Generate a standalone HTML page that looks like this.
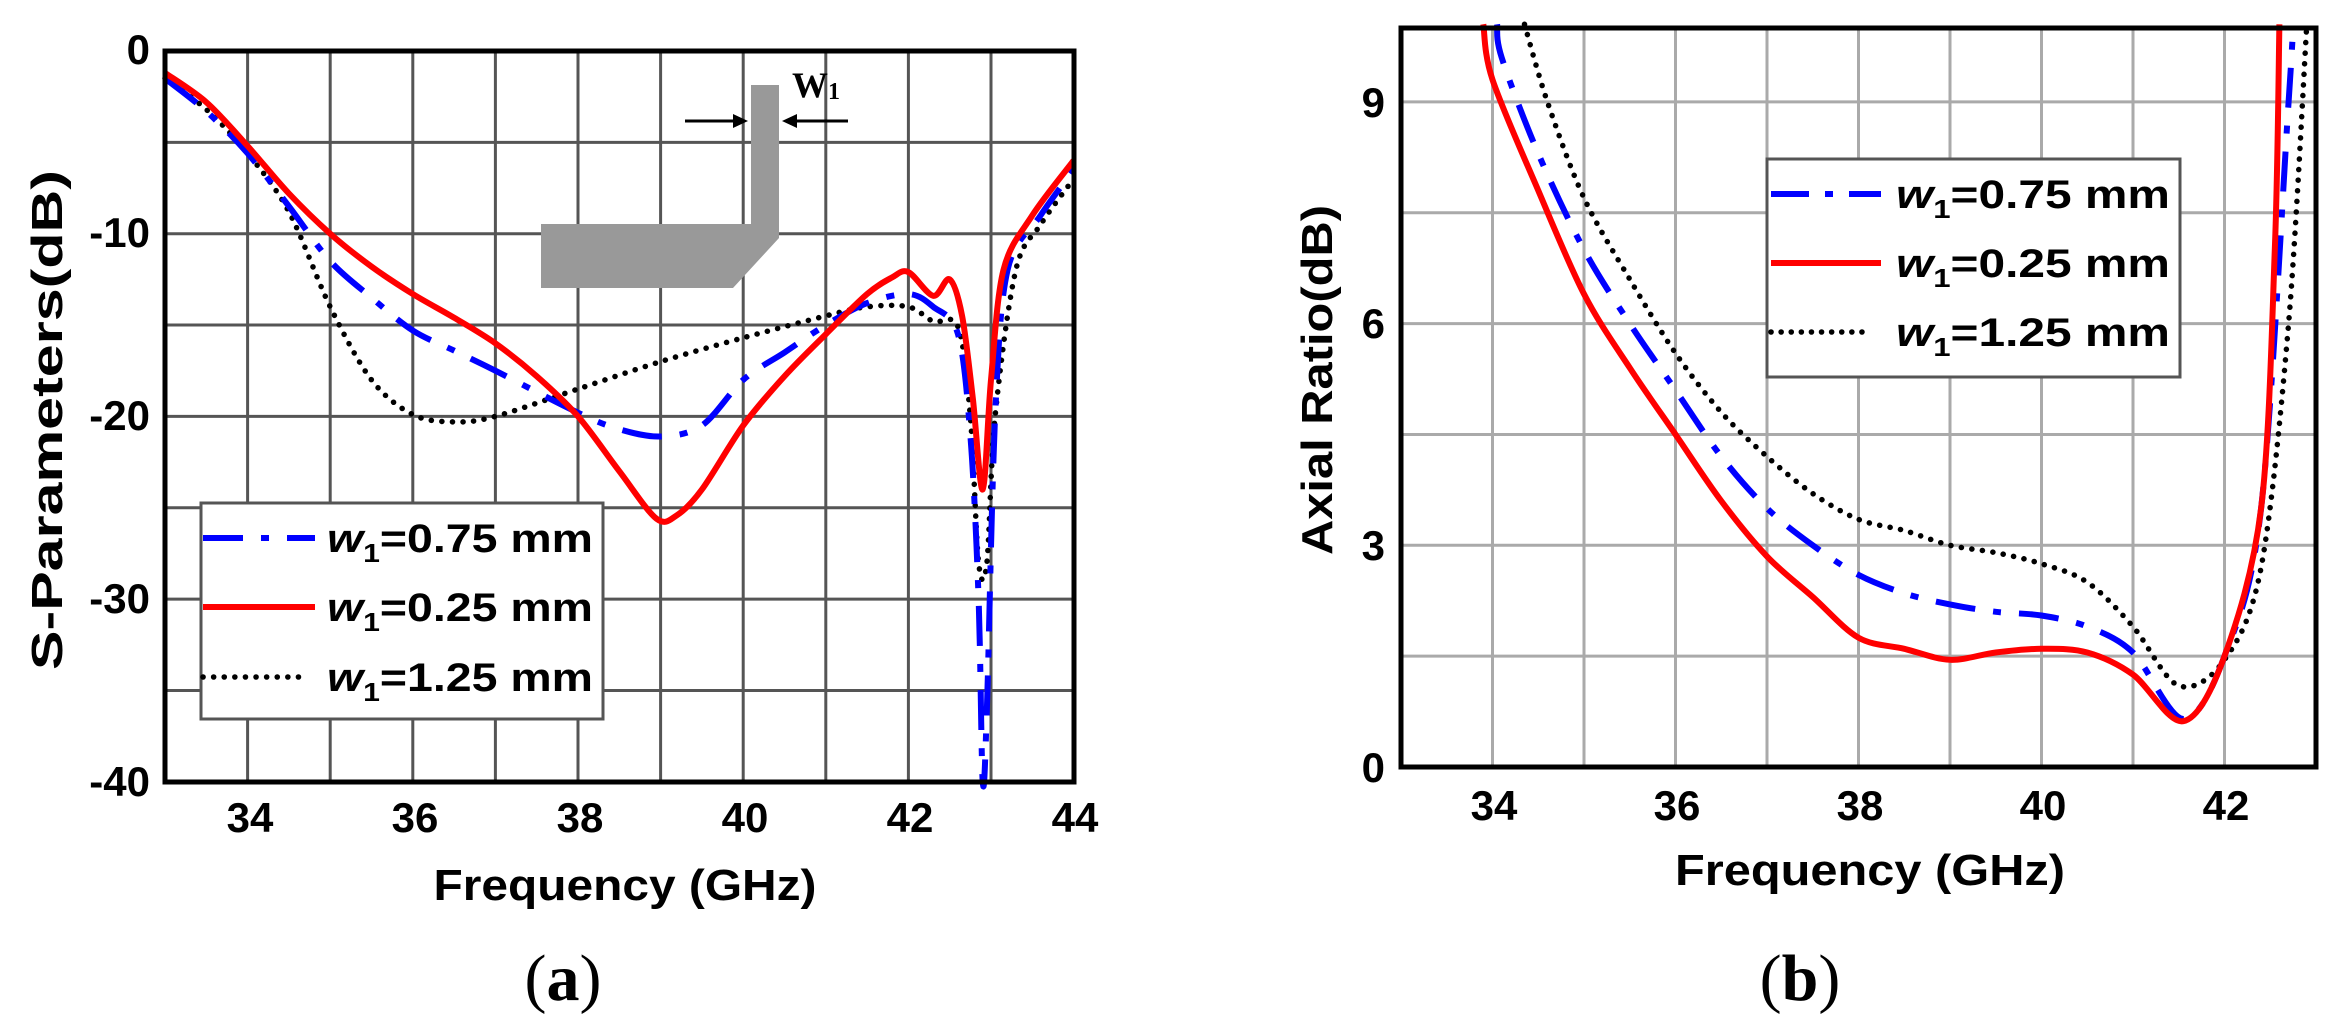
<!DOCTYPE html>
<html><head><meta charset="utf-8"><style>
html,body{margin:0;padding:0;background:#fff;}
svg{display:block;}
text{font-family:"Liberation Sans",Arial,sans-serif;font-weight:bold;fill:#000;}
</style></head><body>
<svg id="s" width="2332" height="1029" viewBox="0 0 2332 1029" xmlns="http://www.w3.org/2000/svg">
<g id="gridA"></g>
<g id="gridB"></g>
<!-- inset -->
<polygon points="751,85 779,85 779,238 733,288 541,288 541,224 751,224" fill="#999"/>
<line x1="685" y1="121" x2="738" y2="121" stroke="#000" stroke-width="3"/>
<polygon points="748,121 733,114 733,128" fill="#000"/>
<line x1="848" y1="121" x2="792" y2="121" stroke="#000" stroke-width="3"/>
<polygon points="782,121 797,114 797,128" fill="#000"/>
<text x="792" y="97" style="font-family:'Liberation Serif',serif;font-size:36px">W<tspan font-size="24" dy="2">1</tspan></text>
<g id="curves"></g>
<!-- axes frames -->
<rect x="165" y="51" width="909" height="731" fill="none" stroke="#000" stroke-width="5"/>
<rect x="1401" y="28" width="915" height="739" fill="none" stroke="#000" stroke-width="5"/>
<!-- legend a -->
<rect x="201" y="503" width="402" height="216" fill="#fff" stroke="#555" stroke-width="3"/>
<line x1="203" y1="538" x2="315" y2="538" stroke="#0000ff" stroke-width="6" stroke-dasharray="40 18 8 18" />
<line x1="203" y1="607" x2="315" y2="607" stroke="#ff0000" stroke-width="6"/>
<line x1="203" y1="677" x2="305" y2="677" stroke="#000" stroke-width="5.5" stroke-dasharray="0.1 10.5" stroke-linecap="round"/>
<g font-size="40">
<text x="327" y="552" textLength="266" lengthAdjust="spacingAndGlyphs"><tspan font-style="italic">w</tspan><tspan font-size="26" dy="10">1</tspan><tspan dy="-10">=0.75 mm</tspan></text>
<text x="327" y="621" textLength="266" lengthAdjust="spacingAndGlyphs"><tspan font-style="italic">w</tspan><tspan font-size="26" dy="10">1</tspan><tspan dy="-10">=0.25 mm</tspan></text>
<text x="327" y="691" textLength="266" lengthAdjust="spacingAndGlyphs"><tspan font-style="italic">w</tspan><tspan font-size="26" dy="10">1</tspan><tspan dy="-10">=1.25 mm</tspan></text>
</g>
<!-- legend b -->
<rect x="1767" y="159" width="413" height="218" fill="#fff" stroke="#555" stroke-width="3"/>
<line x1="1771" y1="194" x2="1881" y2="194" stroke="#0000ff" stroke-width="6" stroke-dasharray="38 16 8 16"/>
<line x1="1771" y1="263" x2="1881" y2="263" stroke="#ff0000" stroke-width="6"/>
<line x1="1771" y1="332" x2="1870" y2="332" stroke="#000" stroke-width="5.5" stroke-dasharray="0.1 10" stroke-linecap="round"/>
<g font-size="40">
<text x="1896" y="208" textLength="274" lengthAdjust="spacingAndGlyphs"><tspan font-style="italic">w</tspan><tspan font-size="26" dy="10">1</tspan><tspan dy="-10">=0.75 mm</tspan></text>
<text x="1896" y="277" textLength="274" lengthAdjust="spacingAndGlyphs"><tspan font-style="italic">w</tspan><tspan font-size="26" dy="10">1</tspan><tspan dy="-10">=0.25 mm</tspan></text>
<text x="1896" y="346" textLength="274" lengthAdjust="spacingAndGlyphs"><tspan font-style="italic">w</tspan><tspan font-size="26" dy="10">1</tspan><tspan dy="-10">=1.25 mm</tspan></text>
</g>
<!-- tick labels a -->
<g font-size="42" text-anchor="end">
<text x="150" y="64">0</text>
<text x="150" y="247">-10</text>
<text x="150" y="430">-20</text>
<text x="150" y="613">-30</text>
<text x="150" y="796">-40</text>
</g>
<g font-size="42" text-anchor="middle">
<text x="250" y="832">34</text><text x="415" y="832">36</text><text x="580" y="832">38</text>
<text x="745" y="832">40</text><text x="910" y="832">42</text><text x="1075" y="832">44</text>
</g>
<text x="625" y="900" font-size="44" text-anchor="middle" textLength="383" lengthAdjust="spacingAndGlyphs">Frequency (GHz)</text>
<text transform="translate(62,420) rotate(-90)" font-size="44" text-anchor="middle" textLength="500" lengthAdjust="spacingAndGlyphs">S-Parameters(dB)</text>
<text x="563" y="1000" font-size="66" text-anchor="middle" style="font-family:'Liberation Serif',serif;font-weight:normal">(<tspan font-weight="bold">a</tspan>)</text>
<!-- tick labels b -->
<g font-size="42" text-anchor="end">
<text x="1385" y="117">9</text>
<text x="1385" y="338">6</text>
<text x="1385" y="560">3</text>
<text x="1385" y="782">0</text>
</g>
<g font-size="42" text-anchor="middle">
<text x="1494" y="820">34</text><text x="1677" y="820">36</text><text x="1860" y="820">38</text>
<text x="2043" y="820">40</text><text x="2226" y="820">42</text>
</g>
<text x="1870" y="885" font-size="44" text-anchor="middle" textLength="390" lengthAdjust="spacingAndGlyphs">Frequency (GHz)</text>
<text transform="translate(1332,380) rotate(-90)" font-size="44" text-anchor="middle" textLength="350" lengthAdjust="spacingAndGlyphs">Axial Ratio(dB)</text>
<text x="1800" y="1000" font-size="66" text-anchor="middle" style="font-family:'Liberation Serif',serif;font-weight:normal">(<tspan font-weight="bold">b</tspan>)</text>
</svg>
<script>
var NS="http://www.w3.org/2000/svg";
function el(p,t,a){var e=document.createElementNS(NS,t);for(var k in a)e.setAttribute(k,a[k]);p.appendChild(e);return e;}
var gA=document.getElementById('gridA'),gB=document.getElementById('gridB'),cv=document.getElementById('curves');
var XA=function(f){return 165+(f-33)*82.6},YA=function(d){return 51-d*18.27};
var XB=function(f){return 1401+(f-33)*91.5},YB=function(v){return 767-v*73.9};
for(var f=34;f<44;f++)el(gA,'line',{x1:XA(f),y1:51,x2:XA(f),y2:782,stroke:'#555','stroke-width':3});
for(var d=-5;d>-40;d-=5)el(gA,'line',{x1:165,y1:YA(d),x2:1074,y2:YA(d),stroke:'#555','stroke-width':3});
for(var f=34;f<43;f++)el(gB,'line',{x1:XB(f),y1:28,x2:XB(f),y2:767,stroke:'#aaa','stroke-width':3});
for(var v=1.5;v<10;v+=1.5)el(gB,'line',{x1:1401,y1:YB(v),x2:2316,y2:YB(v),stroke:'#aaa','stroke-width':3});
function path(pts,X,Y,attrs){
 var P=pts.map(function(p){return [X(p[0]),Y(p[1])];});
 var s='M'+P[0][0].toFixed(1)+','+P[0][1].toFixed(1);
 for(var i=0;i<P.length-1;i++){
  var p0=P[Math.max(0,i-1)],p1=P[i],p2=P[i+1],p3=P[Math.min(P.length-1,i+2)];
  var t=0.16;
  var c1=[p1[0]+(p2[0]-p0[0])*t,p1[1]+(p2[1]-p0[1])*t];
  var c2=[p2[0]-(p3[0]-p1[0])*t,p2[1]-(p3[1]-p1[1])*t];
  s+='C'+c1[0].toFixed(1)+','+c1[1].toFixed(1)+' '+c2[0].toFixed(1)+','+c2[1].toFixed(1)+' '+p2[0].toFixed(1)+','+p2[1].toFixed(1);
 }
 attrs.d=s;attrs.fill='none';attrs['stroke-linejoin']='round';el(cv,'path',attrs);}
var blk={stroke:'#000','stroke-width':5.5,'stroke-dasharray':'0.1 10.5','stroke-linecap':'round'};
var blu={stroke:'#0000ff','stroke-width':6,'stroke-dasharray':'40 18 8 18'};
var red={stroke:'#ff0000','stroke-width':6};
// plot a
path([[33,-1.5],[33.5,-3.2],[34,-5.6],[34.5,-8.8],[35,-14],[35.5,-18],[36,-19.9],[36.5,-20.3],[37,-20],[38,-18.5],[39,-17],[40,-15.7],[41,-14.5],[41.5,-14],[42,-14],[42.3,-14.8],[42.6,-15.1],[42.75,-20],[42.85,-28],[42.95,-28],[43.05,-20],[43.3,-12],[43.6,-9.5],[44,-7]],XA,YA,Object.assign({},blk));
path([[33,-1.5],[33.5,-3.3],[34,-5.6],[34.5,-8.5],[35,-11.5],[35.5,-13.5],[36,-15.3],[36.5,-16.4],[37,-17.5],[38,-19.8],[38.5,-20.7],[39,-21.1],[39.5,-20.5],[40,-18],[40.5,-16.5],[41,-15],[41.5,-13.8],[42,-13.3],[42.3,-14],[42.6,-15.5],[42.75,-21],[42.85,-30],[42.9,-40],[42.95,-36],[43.05,-20],[43.2,-12],[43.6,-9],[44,-6.5]],XA,YA,Object.assign({},blu));
path([[33,-1.2],[33.5,-2.8],[34,-5.2],[34.5,-7.8],[35,-10],[35.5,-11.8],[36,-13.3],[36.5,-14.6],[37,-16],[37.5,-17.8],[38,-20],[38.5,-23],[38.95,-25.6],[39.2,-25.4],[39.5,-24],[40,-20.5],[40.5,-17.8],[41,-15.5],[41.5,-13.3],[41.8,-12.4],[42,-12.1],[42.3,-13.4],[42.5,-12.5],[42.65,-14.5],[42.78,-19],[42.9,-24],[43.0,-18],[43.15,-12],[43.5,-9],[44,-6]],XA,YA,Object.assign({},red));
// plot b
path([[34.35,10.05],[34.6,9],[35,7.7],[35.5,6.6],[36,5.6],[36.5,4.8],[37,4.2],[37.5,3.7],[38,3.35],[38.5,3.2],[39,3.0],[39.5,2.9],[40,2.75],[40.5,2.5],[41,1.9],[41.5,1.1],[42,1.45],[42.4,2.7],[42.7,6],[42.9,10.05]],XB,YB,Object.assign({},blk));
path([[34.05,10.05],[34.1,9.6],[34.5,8.3],[35,7.0],[35.5,6.0],[36,5.1],[36.5,4.2],[37,3.5],[37.5,3.0],[38,2.6],[38.5,2.35],[39,2.2],[39.5,2.1],[40,2.05],[40.5,1.9],[41,1.55],[41.55,0.65],[42,1.5],[42.4,3.5],[42.7,9],[42.75,10.05]],XB,YB,Object.assign({},blu));
path([[33.9,10.05],[34,9.3],[34.5,7.8],[35,6.4],[35.5,5.4],[36,4.5],[36.5,3.6],[37,2.85],[37.5,2.3],[38,1.75],[38.5,1.6],[39,1.45],[39.5,1.55],[40,1.6],[40.5,1.55],[41,1.25],[41.55,0.62],[42,1.5],[42.4,3.5],[42.55,7],[42.6,10.05]],XB,YB,Object.assign({},red));
</script>
</body></html>
